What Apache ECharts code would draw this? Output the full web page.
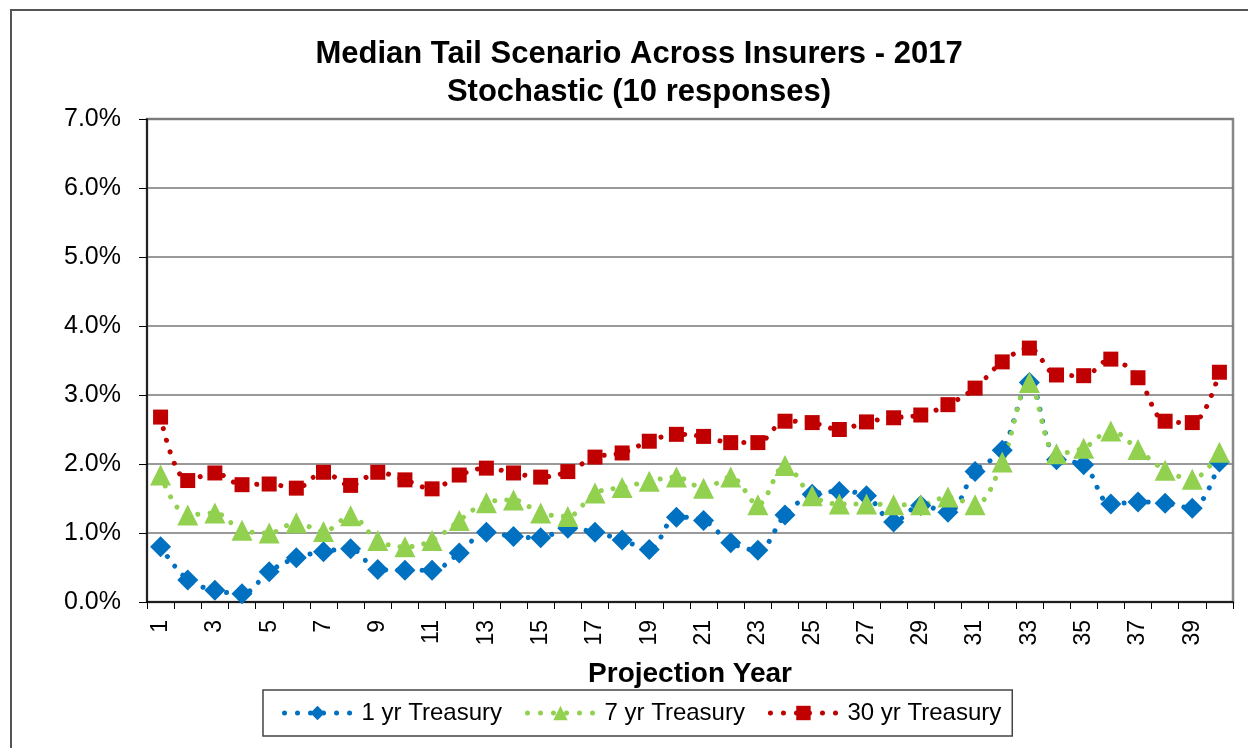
<!DOCTYPE html>
<html>
<head>
<meta charset="utf-8">
<script src="https://cdn.jsdelivr.net/npm/echarts@6/dist/echarts.min.js"></script>
<style>
    html, body { margin: 0; padding: 0; background: #fff; }
    #main { width: 1248px; height: 748px; }
</style>
</head>
<body>
<div id="main"></div>
<script>
    // projection years 1..40
    var years = [];
    for (var i = 1; i <= 40; i++) { years.push(String(i)); }

    // median tail rates, in percent
    var oneYr = [0.80, 0.32, 0.17, 0.12, 0.44, 0.64, 0.73, 0.77, 0.47, 0.46,
                 0.46, 0.71, 1.01, 0.95, 0.93, 1.07, 1.01, 0.90, 0.76, 1.23,
                 1.18, 0.86, 0.75, 1.26, 1.56, 1.60, 1.54, 1.16, 1.40, 1.30,
                 1.89, 2.20, 3.18, 2.06, 1.99, 1.42, 1.45, 1.43, 1.36, 2.03];
    var sevenYr = [1.84, 1.26, 1.29, 1.04, 1.00, 1.15, 1.02, 1.25, 0.89, 0.80,
                   0.89, 1.18, 1.44, 1.48, 1.29, 1.24, 1.58, 1.66, 1.75, 1.81,
                   1.65, 1.81, 1.41, 1.98, 1.54, 1.42, 1.42, 1.41, 1.41, 1.52,
                   1.41, 2.03, 3.18, 2.15, 2.23, 2.48, 2.21, 1.91, 1.78, 2.17];
    var thirtyYr = [2.68, 1.76, 1.87, 1.70, 1.71, 1.65, 1.88, 1.69, 1.88, 1.77,
                    1.64, 1.84, 1.94, 1.87, 1.81, 1.89, 2.10, 2.16, 2.33, 2.43,
                    2.40, 2.31, 2.31, 2.62, 2.60, 2.50, 2.61, 2.67, 2.71, 2.86,
                    3.10, 3.48, 3.68, 3.29, 3.28, 3.52, 3.25, 2.62, 2.60, 3.33];

    var font = '"Liberation Sans", Arial, sans-serif';
    var dots = [0.01, 12];

    function makeSeries(name, data, color, symbol, size) {
        return {
            name: name,
            type: 'line',
            data: data,
            smooth: 0.35,
            symbol: symbol,
            symbolSize: size,
            showAllSymbol: true,
            itemStyle: { color: color },
            lineStyle: { color: color, width: 5, type: dots, cap: 'round' }
        };
    }

    var myChart = echarts.init(document.getElementById('main'));
    var option = {
        animation: false,
        backgroundColor: '#fff',
        textStyle: { fontFamily: font },
        graphic: [{
            type: 'rect',
            z: -10,
            shape: { x: 11, y: 10, width: 1260, height: 760 },
            style: { fill: 'none', stroke: '#555', lineWidth: 2 }
        }],
        title: {
            text: 'Median Tail Scenario Across Insurers - 2017\nStochastic (10 responses)',
            left: 634,
            textAlign: 'center',
            top: 30,
            textStyle: { fontFamily: font, fontSize: 31, fontWeight: 'bold', color: '#000', lineHeight: 38 }
        },
        legend: {
            left: 263,
            top: 690,
            padding: [11, 11, 11, 19],
            borderColor: '#444',
            borderWidth: 1.5,
            itemWidth: 66,
            itemHeight: 18,
            itemGap: 23,
            lineStyle: { width: 5, type: [0.01, 13], cap: 'round' },
            textStyle: { fontFamily: font, fontSize: 24, color: '#000', padding: [0, 0, 0, 6] },
            data: ['1 yr Treasury', '7 yr Treasury', '30 yr Treasury']
        },
        grid: {
            left: 147,
            right: 15,
            top: 119,
            bottom: 146,
            show: true,
            borderColor: '#888',
            borderWidth: 2.5
        },
        xAxis: {
            type: 'category',
            data: years,
            boundaryGap: true,
            name: 'Projection Year',
            nameLocation: 'middle',
            nameGap: 58,
            nameTextStyle: { fontFamily: font, fontSize: 28, fontWeight: 'bold', color: '#000' },
            axisLine: { lineStyle: { color: '#000', width: 1.5 } },
            axisTick: { show: true, interval: 0, length: 7, lineStyle: { color: '#000', width: 1 } },
            axisLabel: {
                interval: 1,
                rotate: 90,
                margin: 18,
                fontFamily: font,
                fontSize: 23,
                color: '#000'
            },
            splitLine: { show: false }
        },
        yAxis: {
            type: 'value',
            min: 0,
            max: 7,
            interval: 1,
            axisLine: { show: true, lineStyle: { color: '#000', width: 1.5 } },
            axisTick: { show: true, length: 8, lineStyle: { color: '#000', width: 1 } },
            axisLabel: {
                margin: 26,
                fontFamily: font,
                fontSize: 25,
                color: '#000',
                formatter: function (v) { return v.toFixed(1) + '%'; }
            },
            splitLine: { lineStyle: { color: '#777', width: 1.5 } }
        },
        series: [
            makeSeries('1 yr Treasury', oneYr, '#0070C0', 'diamond', 21),
            makeSeries('7 yr Treasury', sevenYr, '#92D050', 'triangle', 21),
            makeSeries('30 yr Treasury', thirtyYr, '#C00000', 'rect', 15)
        ]
    };
    myChart.setOption(option);
</script>
</body>
</html>
